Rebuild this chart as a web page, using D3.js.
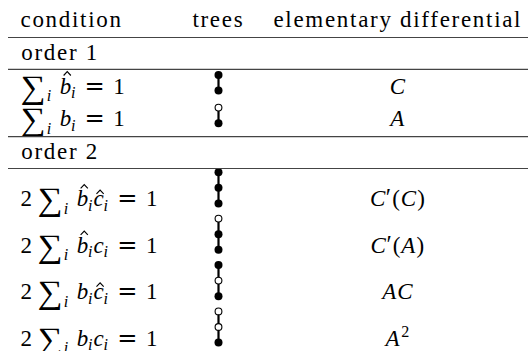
<!DOCTYPE html>
<html>
<head>
<meta charset="utf-8">
<script src="https://cdn.jsdelivr.net/npm/d3@7"></script>
<style>
  html, body { margin: 0; padding: 0; background: #fff; }
  svg { display: block; }
</style>
</head>
<body>
<svg id="tbl" width="528" height="351" font-family="Liberation Serif"></svg>
<script>
// ---- data ----
const headers = ["condition", "trees", "elementary differential"];
const sections = ["order 1", "order 2"];
const sectionOfRow = [0, 0, 1, 1, 1, 1];
const conditions = [
  "\\sum_i \\hat{b}_i = 1",
  "\\sum_i b_i = 1",
  "2\\sum_i \\hat{b}_i \\hat{c}_i = 1",
  "2\\sum_i \\hat{b}_i c_i = 1",
  "2\\sum_i b_i \\hat{c}_i = 1",
  "2\\sum_i b_i c_i = 1"
];
// nodes listed top to bottom: f = filled, o = open
const trees = ["ff", "of", "fff", "off", "fof", "oof"];
const differentials = ["C", "A", "C'(C)", "C'(A)", "AC", "A^2"];

// ---- layout ----
const W = 528, H = 351;
const FS = 23, LS = 1.7;
const FONT = "Liberation Serif";
const colX = { cond: 20.5, tree: 218.5, diff: 397 };
const ruleX = d3.scaleLinear().domain([0, 1]).range([8, W]);
const nodeStep = 15.6;

const svg = d3.select("#tbl");

function addText(g, str, size, family) {
  const fam = family || FONT;
  return g.append("text")
    .attr("font-family", fam)
    .style("font-family", `"${fam}"`)
    .attr("font-size", size).attr("fill", "#000").text(str);
}

function plainText(str, x, y, anchor) {
  const t = addText(svg, str, FS).attr("letter-spacing", LS).attr("y", y);
  const w = t.node().getComputedTextLength() - LS;
  t.attr("x", anchor === "middle" ? x - w / 2 : x);
}

function conditionPieces(str) {
  const re = /\\sum_(\w)|\\hat\{(\w)\}_(\w)|([a-z])_(\w)|=|\d/g;
  const out = [];
  let m;
  while ((m = re.exec(str)) !== null) {
    if (m[1]) {
      out.push({ text: "\u2211", sum: true, gap: out.length ? 5.5 : 0 });
      out.push({ text: m[1], italic: true, sub: true, subDy: 7.5, gap: 1.2 });
      out.push({ gapOnly: 8.5 });
    } else if (m[2] || m[4]) {
      out.push({ text: m[2] || m[4], italic: true, hat: !!m[2] });
      out.push({ text: m[3] || m[5], italic: true, sub: true, subDy: 4.5, gap: -0.3 });
      out.push({ gapOnly: 1.2 });
    } else if (m[0] === "=") {
      out.push({ text: "=", rel: true, gap: 8.0 });
      out.push({ gapOnly: 8.5 });
    } else {
      out.push({ text: m[0] });
    }
  }
  return out;
}

function differentialPieces(str) {
  const re = /[A-Z]|'|\(|\)|\^(\w)/g;
  const out = [];
  let m;
  while ((m = re.exec(str)) !== null) {
    if (m[1]) out.push({ text: m[1], sup: true, gap: 1.5 });
    else if (m[0] === "'") out.push({ text: "\u2032", prime: true, gap: 0.5 });
    else if (/[A-Z]/.test(m[0])) out.push({ text: m[0], italic: true, gap: 0.8 });
    else out.push({ text: m[0], gap: 1.2 });
  }
  return out;
}

function renderPieces(g, pieces) {
  let x = 0;
  pieces.forEach(p => {
    if (p.gapOnly) { x += p.gapOnly; return; }
    if (p.gap) x += p.gap;
    if (p.sum) {
      const t = addText(g, p.text, FS);
      const w = t.node().getComputedTextLength();
      const kx = 25 / w, ky = 1.42;
      t.attr("transform", `translate(${x},4) scale(${kx},${ky})`);
      x += 25;
      return;
    }
    let size = FS, dy = 0, fam = FONT;
    if (p.sub) { size = FS * 0.7; dy = p.subDy; }
    if (p.sup) { size = FS * 0.7; dy = -9; }
    if (p.prime) { size = FS * 1.05; dy = 0; }
    if (p.rel) { fam = "DejaVu Serif"; size = FS * 1.05; dy = 0; }
    const t = addText(g, p.text, size, fam)
      .attr("x", x).attr("y", dy)
      .attr("font-style", p.italic ? "italic" : null);
    const w = t.node().getComputedTextLength();
    if (p.hat) {
      const top = p.text === "b" ? -18 : -12.5;
      const cx = x + w / 2 + (p.text === "b" ? 1.8 : 1.4);
      g.append("path")
        .attr("d", `M${cx - 3.6},${top} L${cx},${top - 3.8} L${cx + 3.6},${top}`)
        .attr("fill", "none").attr("stroke", "#000").attr("stroke-width", 1.15);
    }
    x += w;
  });
  return x;
}

let y = 0;
const rules = [];
const headerBaseline = 26.7;
plainText(headers[0], colX.cond, headerBaseline, "start");
plainText(headers[1], colX.tree - 1, headerBaseline, "middle");
plainText(headers[2], colX.diff, headerBaseline, "middle");
y = 37.5;
rules.push(y);

sections.forEach((label, s) => {
  plainText(label, colX.cond + 0.8, y + 22.3, "start");
  y += 31.8;
  rules.push(y);
  y += 2;
  conditions.forEach((cond, i) => {
    if (sectionOfRow[i] !== s) return;
    const nodes = trees[i].split("");
    const h = 19 + 13.7 * (nodes.length - 1);
    const base = y + h - 10.5;

    const gc = svg.append("g").attr("transform", `translate(${colX.cond},${base})`);
    renderPieces(gc, conditionPieces(cond));

    const gd = svg.append("g");
    const wd = renderPieces(gd, differentialPieces(differentials[i]));
    gd.attr("transform", `translate(${colX.diff - wd / 2},${base})`);

    const ny = d3.scaleLinear().domain([0, nodes.length - 1])
      .range([base - 3 - nodeStep * (nodes.length - 1), base - 3]);
    const gt = svg.append("g");
    gt.append("line")
      .attr("x1", colX.tree).attr("x2", colX.tree)
      .attr("y1", ny(0)).attr("y2", ny(nodes.length - 1))
      .attr("stroke", "#000").attr("stroke-width", 2.2);
    gt.selectAll("circle").data(nodes).join("circle")
      .attr("cx", colX.tree)
      .attr("cy", (d, k) => ny(k))
      .attr("r", d => d === "f" ? 4.0 : 3.4)
      .attr("fill", d => d === "f" ? "#000" : "#fff")
      .attr("stroke", "#000")
      .attr("stroke-width", d => d === "f" ? 0 : 1.1);

    y += h;
  });
  rules.push(y);
});

svg.selectAll("line.rule").data(rules.filter(r => r < H)).join("line")
  .attr("class", "rule")
  .attr("x1", ruleX(0)).attr("x2", ruleX(1))
  .attr("y1", d => d).attr("y2", d => d)
  .attr("stroke", "#444").attr("stroke-width", 1.2);
</script>
</body>
</html>
